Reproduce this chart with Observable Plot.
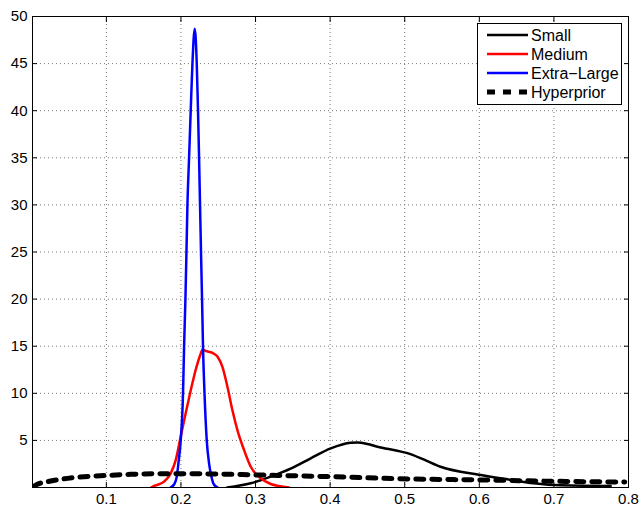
<!DOCTYPE html>
<html><head><meta charset="utf-8">
<script src="https://cdn.jsdelivr.net/npm/d3@7"></script>
<script src="https://cdn.jsdelivr.net/npm/@observablehq/plot@0.6"></script>
<style>
body{margin:0;background:#fff;}
#wrap{position:relative;width:640px;height:506px;font-family:"Liberation Sans",Arial,sans-serif;}
#wrap > svg text{font-size:15px !important;font-family:"Liberation Sans",Arial,sans-serif !important;}
#legend{position:absolute;left:477px;top:23px;width:145px;height:82px;box-sizing:border-box;border:1px solid #000;background:#fff;}
</style></head><body><div id="wrap"></div>
<script>
// ticks
const xTicks = [0.1, 0.2, 0.3, 0.4, 0.5, 0.6, 0.7, 0.8];
const yTicks = [5, 10, 15, 20, 25, 30, 35, 40, 45, 50];

// series
const smallX = [0.262, 0.2936, 0.3204, 0.347, 0.374, 0.4008, 0.4276, 0.4366, 0.45, 0.4634, 0.49, 0.5036, 0.526, 0.548, 0.602, 0.6377, 0.673, 0.709, 0.776];
const smallY = [0, 0.45, 1.15, 2.0, 3.1, 4.15, 4.75, 4.78, 4.62, 4.33, 3.9, 3.65, 2.95, 2.2, 1.33, 0.87, 0.45, 0.23, 0.16];

const mediumX = [0.160, 0.164, 0.1774, 0.1863, 0.193, 0.1997, 0.2064, 0.2131, 0.2198, 0.2265, 0.2288, 0.233, 0.2422, 0.2489, 0.2556, 0.2623, 0.269, 0.2757, 0.2846, 0.2936, 0.307, 0.3204, 0.3315, 0.345];
const mediumY = [0, 0.16, 0.62, 1.5, 2.9, 5.4, 7.9, 10.3, 12.5, 14.2, 14.65, 14.5, 14.3, 13.9, 12.8, 10.7, 8.2, 6.1, 3.98, 2.2, 0.98, 0.37, 0.16, 0];

const xlX = [0.1863, 0.191, 0.1944, 0.1966, 0.1997, 0.2028, 0.2042, 0.2060, 0.2074, 0.2087, 0.2109, 0.2131, 0.2154, 0.2185, 0.2212, 0.2229, 0.2243, 0.2256, 0.2269, 0.2283, 0.2296, 0.2316, 0.2346, 0.2377, 0.2409, 0.244, 0.2489];
const xlY = [0, 0.35, 1.15, 2.56, 5, 10, 14.9, 20, 25, 30, 35, 40, 45, 48.7, 45, 40, 35, 30, 25, 20, 14.9, 10, 5, 2.56, 1.15, 0.35, 0];

const hyperX = [0.002, 0.0076, 0.0255, 0.048, 0.070, 0.0925, 0.1327, 0.1773, 0.2265, 0.3025, 0.4008, 0.508, 0.5527, 0.602, 0.7, 0.795];
const hyperY = [0.1, 0.34, 0.69, 0.97, 1.15, 1.25, 1.4, 1.46, 1.45, 1.33, 1.15, 0.9, 0.85, 0.8, 0.66, 0.58];

const seriesNames = ["Small", "Medium", "Extra\u2212Large", "Hyperprior"];
const seriesColors = ["#000000", "#ff0000", "#0000ff", "#000000"];

const toRows = (xs, ys) => xs.map((x, i) => ({x, y: ys[i]}));
const small = toRows(smallX, smallY);
const medium = toRows(mediumX, mediumY);
const xl = toRows(xlX, xlY);
const hyper = toRows(hyperX, hyperY);

const FONT = "'Liberation Sans', Arial, sans-serif";
const plot = Plot.plot({
  width: 640, height: 506,
  marginLeft: 32, marginRight: 12, marginTop: 16, marginBottom: 19,
  style: {fontFamily: FONT, fontSize: "15px", background: "#fff", color: "#000"},
  x: {domain: [0.001, 0.8]},
  y: {domain: [0, 50]},
  marks: [
    Plot.gridX(xTicks, {stroke: "#777", strokeOpacity: 1, strokeDasharray: "1,3"}),
    Plot.gridY(yTicks, {stroke: "#777", strokeOpacity: 1, strokeDasharray: "1,3"}),
    Plot.line(small, {x: "x", y: "y", stroke: seriesColors[0], strokeWidth: 2.5, curve: "monotone-x", clip: true}),
    Plot.line(medium, {x: "x", y: "y", stroke: seriesColors[1], strokeWidth: 2.5, curve: "monotone-x", clip: true}),
    Plot.line(xl, {x: "x", y: "y", stroke: seriesColors[2], strokeWidth: 2.5, curve: "monotone-x", clip: true}),
    Plot.line(hyper, {x: "x", y: "y", stroke: seriesColors[3], strokeWidth: 5, strokeDasharray: "8,8", curve: "monotone-x", clip: true}),
    Plot.frame({stroke: "#000"}),
    Plot.axisX(xTicks, {anchor: "bottom", tickSize: -5, tickPadding: 11, fontSize: 15, tickFormat: d => String(d), label: null}),
    Plot.axisX(xTicks, {anchor: "top", tickSize: -5, tickFormat: () => "", label: null}),
    Plot.axisY(yTicks, {anchor: "left", tickSize: -5, tickPadding: 10, fontSize: 15, tickFormat: d => String(d), label: null}),
    Plot.axisY(yTicks, {anchor: "right", tickSize: -5, tickFormat: () => "", label: null})
  ]
});
const wrap = document.getElementById("wrap");
wrap.appendChild(plot);

// legend
const leg = document.createElement("div");
leg.id = "legend";
wrap.appendChild(leg);
const lsvg = d3.select(leg).append("svg").attr("width", 143).attr("height", 80);
seriesNames.forEach((name, i) => {
  const cy = 11 + i * 19;
  const line = lsvg.append("line").attr("x1", 9).attr("x2", 50).attr("y1", cy).attr("y2", cy)
    .attr("stroke", seriesColors[i]).attr("stroke-width", i === 3 ? 5 : 2.5);
  if (i === 3) line.attr("stroke-dasharray", "8,8");
  lsvg.append("text").attr("x", 53).attr("y", cy).attr("dy", "0.36em")
    .attr("font-family", FONT).attr("font-size", "16px")
    .text(name);
});
</script></body></html>
